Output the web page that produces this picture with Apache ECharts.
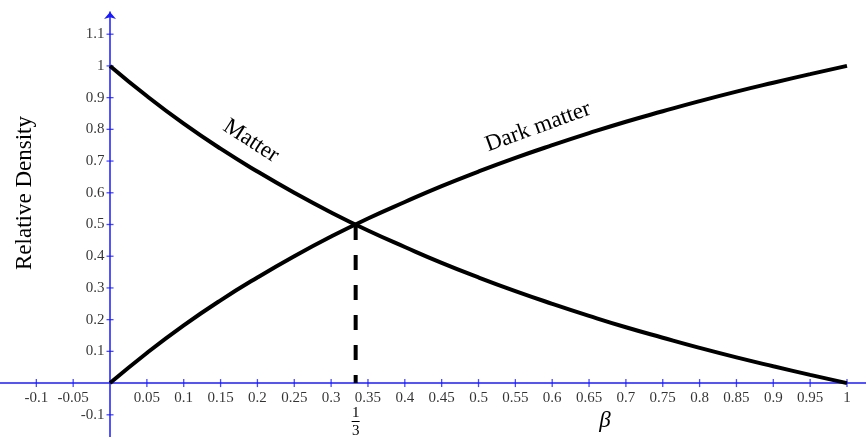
<!DOCTYPE html>
<html>
<head>
<meta charset="utf-8">
<script src="https://cdn.jsdelivr.net/npm/echarts@6/dist/echarts.min.js"></script>
<style>
html,body{margin:0;padding:0;background:#fff;}
#chart{width:866px;height:437px;}
</style>
</head>
<body>
<div id="chart"></div>
<script>
// ---- data ----
const betaValues = [0, 0.05, 0.1, 0.15, 0.2, 0.25, 0.3, 0.35, 0.4, 0.45, 0.5, 0.55, 0.6, 0.65, 0.7, 0.75, 0.8, 0.85, 0.9, 0.95, 1];
const matterValues = [1, 0.905, 0.818, 0.739, 0.667, 0.6, 0.538, 0.481, 0.429, 0.379, 0.333, 0.29, 0.25, 0.212, 0.176, 0.143, 0.111, 0.081, 0.053, 0.026, 0];
const darkMatterValues = [0, 0.095, 0.182, 0.261, 0.333, 0.4, 0.462, 0.519, 0.571, 0.621, 0.667, 0.71, 0.75, 0.788, 0.824, 0.857, 0.889, 0.919, 0.947, 0.974, 1];
const crossBeta = 0.3333;
const crossDensity = 0.5;
const xTickLabels = ['-0.1', '-0.05', '0.05', '0.1', '0.15', '0.2', '0.25', '0.3', '0.35', '0.4', '0.45', '0.5', '0.55', '0.6', '0.65', '0.7', '0.75', '0.8', '0.85', '0.9', '0.95', '1'];
const yTickLabels = ['-0.1', '0.1', '0.2', '0.3', '0.4', '0.5', '0.6', '0.7', '0.8', '0.9', '1', '1.1'];
const seriesNames = ['Matter', 'Dark matter'];
const xAxisTitle = 'β';
const yAxisTitle = 'Relative Density';

// ---- chart ----
const SERIF = '"Liberation Serif", "DejaVu Serif", serif';
const AXIS_BLUE = '#1a1aff';
const xTicks = xTickLabels.map(Number);
const yTicks = yTickLabels.map(Number);
const tickLabelStyle = {fontFamily: SERIF, fontSize: 15, color: '#000'};

const chart = echarts.init(document.getElementById('chart'), null, {renderer: 'canvas'});

const option = {
  animation: false,
  backgroundColor: '#fff',
  grid: {left: 0, right: 0, top: 12, bottom: 0, containLabel: false, outerBoundsMode: 'none'},
  xAxis: {
    type: 'value', min: -0.1493, max: 1.0258,
    axisLine: {show: true, onZero: true, lineStyle: {color: AXIS_BLUE, width: 1.5}},
    axisTick: {show: false},
    axisLabel: {show: false},
    splitLine: {show: false}
  },
  yAxis: {
    type: 'value', min: -0.17, max: 1.17,
    axisLine: {show: true, onZero: true, symbol: ['none', 'arrow'], symbolSize: [9, 7],
      lineStyle: {color: AXIS_BLUE, width: 1.5}},
    axisTick: {show: false},
    axisLabel: {show: false},
    splitLine: {show: false}
  },
  series: [
    {
      name: 'xTicks', type: 'scatter', symbol: 'rect', symbolSize: [1.3, 8], silent: true,
      itemStyle: {color: AXIS_BLUE}, data: xTicks.map(v => [v, 0]), z: 1,
      label: Object.assign({show: true, position: 'bottom', distance: 3,
        formatter: p => xTickLabels[p.dataIndex]}, tickLabelStyle)
    },
    {
      name: 'yTicks', type: 'scatter', symbol: 'rect', symbolSize: [7, 1.3], silent: true,
      itemStyle: {color: AXIS_BLUE}, data: yTicks.map(v => [0, v]), z: 1,
      label: Object.assign({show: true, position: 'left', distance: 2,
        formatter: p => yTickLabels[p.dataIndex]}, tickLabelStyle)
    },
    {
      name: seriesNames[0], type: 'line', smooth: true, symbol: 'none',
      lineStyle: {color: '#000', width: 4},
      data: betaValues.map((b, i) => [b, matterValues[i]]),
      z: 3
    },
    {
      name: seriesNames[1], type: 'line', smooth: true, symbol: 'none',
      lineStyle: {color: '#000', width: 4},
      data: betaValues.map((b, i) => [b, darkMatterValues[i]]),
      z: 3
    },
    {
      name: 'crossing', type: 'line', symbol: 'none',
      lineStyle: {color: '#000', width: 4, type: [15, 15], dashOffset: 7},
      data: [[crossBeta, 0], [crossBeta, crossDensity]],
      z: 2
    }
  ]
};
chart.setOption(option);

const px = chart.convertToPixel({xAxisIndex: 0, yAxisIndex: 0}, [crossBeta, 0]);
chart.setOption({
  graphic: [
    {type: 'text', x: 25, y: 193, rotation: Math.PI / 2,
      style: {text: yAxisTitle, font: '23px ' + SERIF, fill: '#000', align: 'center', verticalAlign: 'middle'}},
    {type: 'text', x: 605, y: 421,
      style: {text: xAxisTitle, font: 'italic 23px ' + SERIF, fill: '#000', align: 'center', verticalAlign: 'middle'}},
    {type: 'text', x: 251, y: 141, rotation: -33 * Math.PI / 180,
      style: {text: seriesNames[0], font: '23px ' + SERIF, fill: '#000', align: 'center', verticalAlign: 'middle'}},
    {type: 'text', x: 538, y: 127, rotation: 20 * Math.PI / 180,
      style: {text: seriesNames[1], font: '23px ' + SERIF, fill: '#000', align: 'center', verticalAlign: 'middle'}},
    {type: 'text', x: px[0], y: 413,
      style: {text: '1', font: '15px ' + SERIF, fill: '#000', align: 'center', verticalAlign: 'middle'}},
    {type: 'line', shape: {x1: px[0] - 4, y1: 421.5, x2: px[0] + 4, y2: 421.5}, style: {stroke: '#000', lineWidth: 1}},
    {type: 'text', x: px[0], y: 431,
      style: {text: '3', font: '15px ' + SERIF, fill: '#000', align: 'center', verticalAlign: 'middle'}}
  ]
});
</script>
</body>
</html>
